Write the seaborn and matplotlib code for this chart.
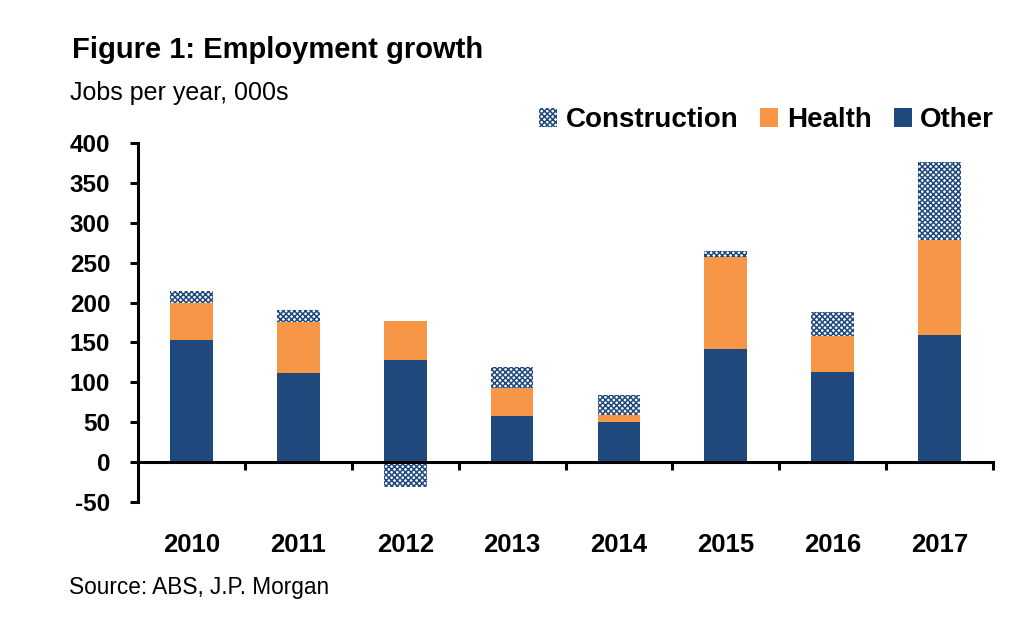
import numpy as np
import pandas as pd
import matplotlib
matplotlib.use("Agg")
import matplotlib.pyplot as plt
from matplotlib.patches import Patch
from matplotlib.ticker import FixedLocator
import seaborn as sns

# ---- data (jobs per year, 000s) ----
years = ["2010", "2011", "2012", "2013", "2014", "2015", "2016", "2017"]
other = [153, 112, 128, 58, 50, 142, 113, 159]
health = [47, 64, 49, 35, 9, 115, 45, 119]
construction = [14, 15, -31, 26, 25, 7, 30, 98]
yticks = [-50, 0, 50, 100, 150, 200, 250, 300, 350, 400]

BLUE = "#1F497D"
ORANGE = "#F79646"
HATCH = "xxxxxx"

sns.set_theme(style="white")
plt.rcParams["font.family"] = ["Liberation Sans", "DejaVu Sans"]
plt.rcParams["hatch.linewidth"] = 1.1
plt.rcParams["text.color"] = "black"
plt.rcParams["xtick.color"] = "black"
plt.rcParams["ytick.color"] = "black"

df = pd.DataFrame({"year": years, "other": other, "health": health,
                   "construction": construction})
df["health_bottom"] = df["other"]
df["con_bottom"] = np.where(df["construction"] >= 0, df["other"] + df["health"], 0)

fig = plt.figure(figsize=(10.24, 6.32), dpi=100)
ax = fig.add_axes([138 / 1024, 1 - 502 / 632, 855 / 1024, 359 / 632])

sns.barplot(data=df, x="year", y="other", color=BLUE, saturation=1,
            width=0.4, errorbar=None, linewidth=0, ax=ax)
sns.barplot(data=df, x="year", y="health", bottom=df["health_bottom"],
            color=ORANGE, saturation=1, width=0.4, errorbar=None,
            linewidth=0, ax=ax)
sns.barplot(data=df, x="year", y="construction", bottom=df["con_bottom"],
            color="white", saturation=1, width=0.4, errorbar=None,
            edgecolor=BLUE, hatch=HATCH, linewidth=0, ax=ax)

ax.set_xlim(-0.5, len(years) - 0.5)
ax.set_ylim(-50, 400)
ax.set_xlabel("")
ax.set_ylabel("")

for s in ["top", "right"]:
    ax.spines[s].set_visible(False)
ax.spines["bottom"].set_position(("data", 0))
for s in ["left", "bottom"]:
    ax.spines[s].set_linewidth(2.2)
    ax.spines[s].set_color("black")

ax.set_yticks(yticks)
ax.set_yticklabels([str(v) for v in yticks], fontsize=17.5, fontweight="bold",
                   color="black")
ax.tick_params(axis="y", direction="out", length=6, width=2.2, pad=14,
               left=True, color="black")

ax.set_xticks(range(len(years)))
ax.set_xticklabels(years, fontsize=18.5, fontweight="bold", color="black")
ax.tick_params(axis="x", which="major", length=0, pad=51)
ax.xaxis.set_minor_locator(FixedLocator(np.arange(0.5, len(years), 1.0)))
ax.tick_params(axis="x", which="minor", direction="out", length=6, width=2.2,
               bottom=True, color="black")

fig.text(72 / 1024, 1 - 58 / 632, "Figure 1: Employment growth",
         fontsize=21, fontweight="bold", va="baseline", ha="left")
fig.text(70 / 1024, 1 - 100 / 632, "Jobs per year, 000s",
         fontsize=18, va="baseline", ha="left")
fig.text(69 / 1024, 1 - 594 / 632, "Source: ABS, J.P. Morgan",
         fontsize=16.3, va="baseline", ha="left")

handles = [Patch(facecolor="white", edgecolor=BLUE, hatch=HATCH, linewidth=0),
           Patch(facecolor=ORANGE, linewidth=0),
           Patch(facecolor=BLUE, linewidth=0)]
leg = fig.legend(handles, ["Construction", "Health", "Other"], ncol=3,
                 loc="center right", bbox_to_anchor=(994 / 1024, 1 - 120 / 632),
                 frameon=False, handlelength=0.65, handleheight=0.65,
                 handletextpad=0.3, columnspacing=0.8, borderpad=0,
                 borderaxespad=0, prop={"size": 20, "weight": "bold"})
for t in leg.get_texts():
    t.set_color("black")

fig.savefig("out.png", dpi=100)
